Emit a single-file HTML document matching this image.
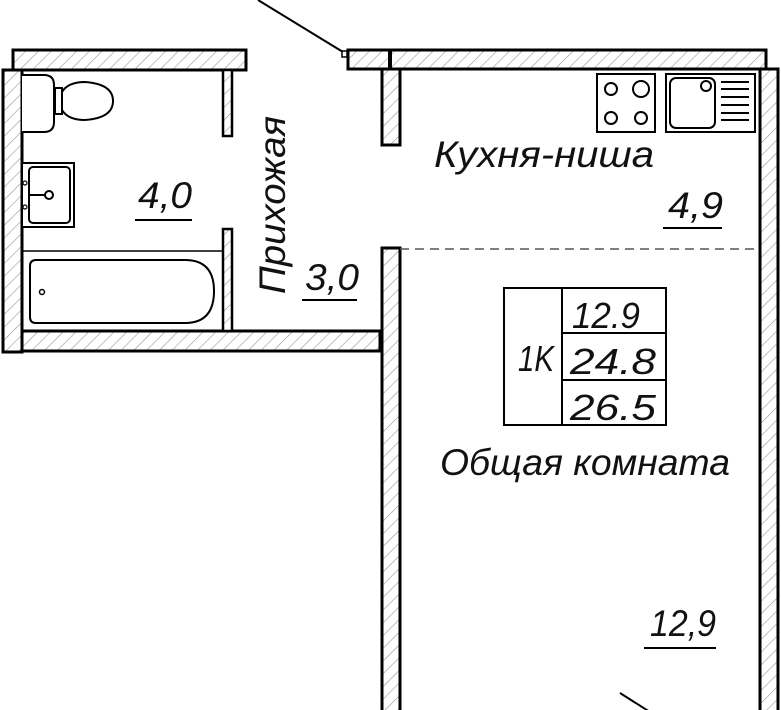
<!DOCTYPE html>
<html><head><meta charset="utf-8"><style>
html,body{margin:0;padding:0;background:#fff;width:781px;height:710px;overflow:hidden}
svg{display:block}
text{font-family:"Liberation Sans",sans-serif;font-style:italic;fill:#111}
</style></head><body>
<svg width="781" height="710" viewBox="0 0 781 710" xmlns="http://www.w3.org/2000/svg">
<defs>
<pattern id="h" width="9" height="9" patternUnits="userSpaceOnUse" patternTransform="rotate(45)">
<rect width="9" height="9" fill="#fff"/>
<line x1="0" y1="0" x2="0" y2="9" stroke="#999" stroke-width="1.2"/>
</pattern>
</defs>
<g stroke="#000" stroke-width="3" fill="url(#h)">
<rect x="13" y="50" width="233" height="20"/>
<rect x="3" y="70" width="19" height="282"/>
<rect x="22" y="331" width="358" height="20"/>
<rect x="223" y="70" width="9" height="66" stroke-width="2.5"/>
<rect x="223" y="229" width="9" height="102" stroke-width="2.5"/>
<rect x="348" y="50" width="42" height="19"/>
<rect x="390" y="50" width="376" height="19"/>
<rect x="760" y="69" width="18" height="645"/>
<rect x="382" y="69" width="18" height="76"/>
<rect x="382" y="248" width="18" height="470"/>
</g>
<line x1="390" y1="50" x2="390" y2="69" stroke="#000" stroke-width="4"/>
<line x1="258" y1="0" x2="343" y2="52" stroke="#000" stroke-width="2"/>
<rect x="342" y="51" width="5" height="6" fill="#fff" stroke="#000" stroke-width="1.5"/>
<line x1="620" y1="693" x2="650" y2="712" stroke="#000" stroke-width="2"/>
<line x1="400" y1="249" x2="760" y2="249" stroke="#555" stroke-width="1.5" stroke-dasharray="9,6"/>
<g fill="#fff" stroke="#000" stroke-width="2">
<path d="M22 75 H44 Q54 75 54 85 V122 Q54 132 44 132 H22"/>
<rect x="55" y="88" width="7" height="26"/>
<path d="M62 92 Q68 82 85 82 Q113 84 113 101 Q113 118 85 120 Q68 120 62 110 Z"/>
<rect x="22" y="163" width="52" height="64"/>
<rect x="29" y="167" width="41" height="56" rx="4"/>
<circle cx="49" cy="195" r="4"/>
<line x1="29" y1="195" x2="45" y2="195"/>
<circle cx="25" cy="183" r="2" stroke-width="1.2"/>
<circle cx="25" cy="207" r="2" stroke-width="1.2"/>
<line x1="22" y1="251" x2="222" y2="251" stroke-width="1.5"/>
<path d="M36 260 H185 Q214 260 214 291 Q214 323 185 323 H36 Q30 323 30 317 V266 Q30 260 36 260 Z"/>
<circle cx="42" cy="292" r="2.5" stroke-width="1.5"/>
<rect x="597" y="74" width="58" height="58"/>
<circle cx="611" cy="89" r="6"/>
<circle cx="641" cy="89" r="8"/>
<circle cx="611" cy="118" r="6"/>
<circle cx="641" cy="118" r="6"/>
<rect x="666" y="74" width="89" height="58"/>
<rect x="670" y="78" width="45" height="50" rx="6"/>
<circle cx="706" cy="86" r="5"/>
</g>
<g stroke="#000" stroke-width="2">
<line x1="721" y1="82" x2="749" y2="82"/><line x1="721" y1="89" x2="749" y2="89"/>
<line x1="721" y1="97" x2="749" y2="97"/><line x1="721" y1="105" x2="749" y2="105"/>
<line x1="721" y1="113" x2="749" y2="113"/><line x1="721" y1="120" x2="749" y2="120"/>
</g>
<g fill="none" stroke="#000" stroke-width="2">
<rect x="504" y="288" width="162" height="137"/>
<line x1="562" y1="288" x2="562" y2="425"/>
<line x1="562" y1="333" x2="666" y2="333"/>
<line x1="562" y1="380" x2="666" y2="380"/>
</g>
<text x="572" y="328" font-size="36" textLength="68" lengthAdjust="spacingAndGlyphs">12.9</text>
<text x="570" y="374" font-size="36" textLength="86" lengthAdjust="spacingAndGlyphs">24.8</text>
<text x="570" y="420" font-size="36" textLength="86" lengthAdjust="spacingAndGlyphs">26.5</text>
<text x="518" y="371" font-size="36" textLength="36" lengthAdjust="spacingAndGlyphs">1K</text>
<text x="138" y="208" font-size="37" textLength="54" lengthAdjust="spacingAndGlyphs">4,0</text>
<line x1="135" y1="220" x2="192" y2="220" stroke="#000" stroke-width="2"/>
<text transform="translate(285,294) rotate(-90)" font-size="37" textLength="178" lengthAdjust="spacingAndGlyphs">Прихожая</text>
<text x="305" y="290" font-size="37" textLength="54" lengthAdjust="spacingAndGlyphs">3,0</text>
<line x1="302" y1="300" x2="357" y2="300" stroke="#000" stroke-width="2"/>
<text x="434" y="167" font-size="37" textLength="220" lengthAdjust="spacingAndGlyphs">Кухня-ниша</text>
<text x="668" y="218" font-size="37" textLength="55" lengthAdjust="spacingAndGlyphs">4,9</text>
<line x1="663" y1="228" x2="722" y2="228" stroke="#000" stroke-width="2"/>
<text x="440" y="475" font-size="37" textLength="290" lengthAdjust="spacingAndGlyphs">Общая комната</text>
<text x="650" y="636" font-size="37" textLength="66" lengthAdjust="spacingAndGlyphs">12,9</text>
<line x1="644" y1="648" x2="716" y2="648" stroke="#000" stroke-width="2"/>
</svg>
</body></html>
